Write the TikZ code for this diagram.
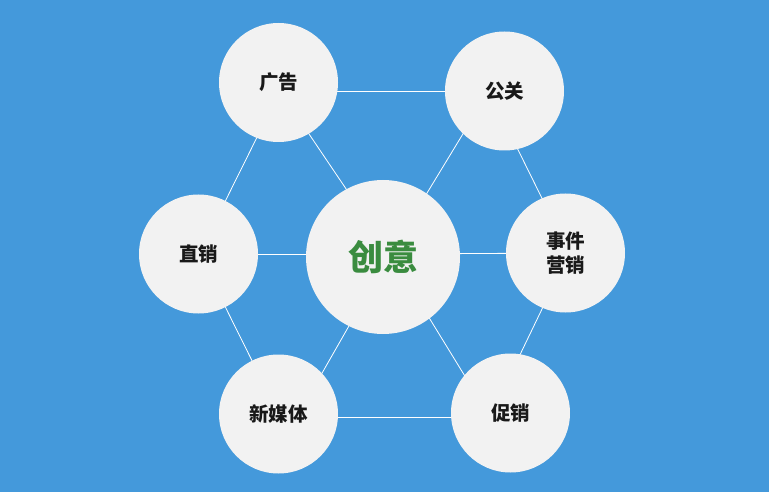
\documentclass[tikz,border=0pt]{standalone}
\usepackage{fontspec}
\newfontfamily\cjk{Noto Sans CJK SC}
\definecolor{bgblue}{HTML}{4499DB}
\definecolor{disc}{HTML}{F2F2F2}
\definecolor{idea}{HTML}{3A8C3F}
\begin{document}
\begin{tikzpicture}
  [x=1pt,y=-1pt,every node/.style={circle,fill=disc,inner sep=0pt,
   minimum size=119pt,align=center,font=\cjk\bfseries\fontsize{19.5}{23.5}\selectfont,text=black!90}]
  \fill[bgblue] (0,0) rectangle (769,492);
  \useasboundingbox (0,0) rectangle (769,492);
  % hidden hub points of the web
  \coordinate (videa) at (390,254);
  \coordinate (vad) at (280,91);
  \coordinate (vpr) at (489,91);
  \coordinate (vevent) at (569,253);
  \coordinate (vpromo) at (490,417);
  \coordinate (vmedia) at (280,417);
  \coordinate (vdirect) at (199,254);
  \coordinate (vpromo2) at (490,417);
  \coordinate (vmedia2) at (297,417);
  \foreach \from/\to in {vad/vpr,vpr/vevent,vevent/vpromo,vpromo/vmedia,vmedia/vdirect,vdirect/vad,
    videa/vad,videa/vpr,videa/vdirect,videa/vevent,videa/vmedia2,videa/vpromo2}
    \draw[white,line width=0.8pt] (\from) -- (\to);
  \node[minimum size=154pt,text=idea,font=\cjk\bfseries\fontsize{35}{40}\selectfont] (nidea) at (383,257) {创意};
  \node (nad) at (278.5,82.5) {广告};
  \node (npr) at (504.5,91) {公关};
  \node (ndirect) at (198.5,254) {直销};
  \node (nevent) at (565.5,253) {事件\\营销};
  \node (nmedia) at (278.5,414) {新媒体};
  \node (npromo) at (510.5,413) {促销};
\end{tikzpicture}
\end{document}
